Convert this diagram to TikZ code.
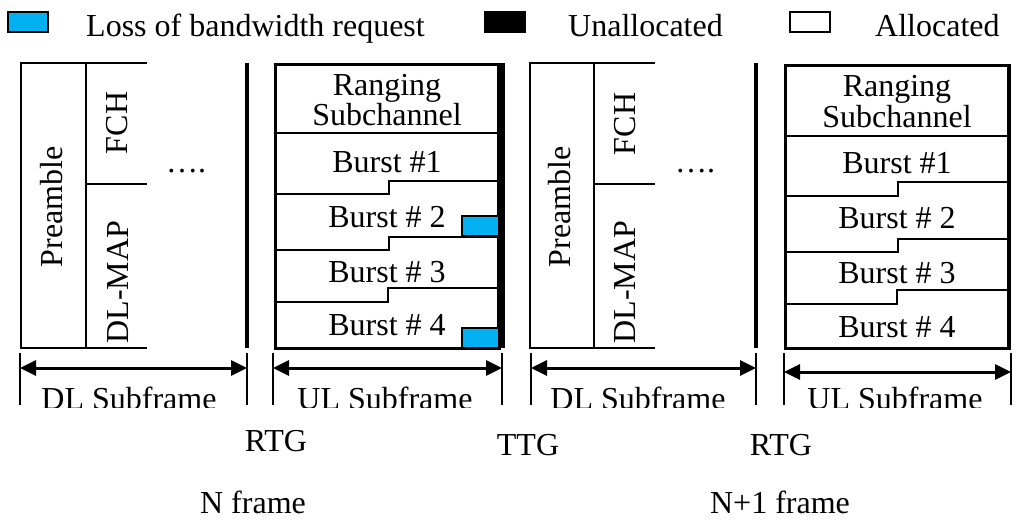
\documentclass[tikz,border=0pt]{standalone}
\usepackage{fontspec}
\setmainfont{Liberation Serif}
\usetikzlibrary{arrows.meta}
\definecolor{lossblue}{RGB}{0,176,240}
\begin{document}
\begin{tikzpicture}[x=1pt,y=-1pt,
  txt/.style={inner sep=0pt,font=\fontsize{32}{32}\selectfont,anchor=base},
  rtxt/.style={txt,rotate=90},
  legbox/.style={draw,line width=1.5pt,minimum width=40pt,minimum height=20pt,inner sep=0pt},
  frameline/.style={line width=2.2pt},
  thinline/.style={line width=1.5pt},
  gapbar/.style={line width=4pt},
  ulbox/.style={draw,line width=3pt},
  lossbox/.style={draw,fill=lossblue,line width=2.2pt},
  span/.style={line width=3pt,{Triangle[length=16pt,width=15pt]}-{Triangle[length=16pt,width=15pt]}},
  tickline/.style={line width=1.5pt},
]
\useasboundingbox (0,0) rectangle (1016,519);

% legend
\node[legbox,fill=lossblue] (legloss) at (28,22) {};
\node[txt,anchor=base west] (leglosst) at (86,37) {Loss of bandwidth request};
\node[legbox,fill=black] (legun) at (505,22) {};
\node[txt,anchor=base west] (leguntxt) at (568,37) {Unallocated};
\node[legbox,fill=white] (legal) at (810,22) {};
\node[txt,anchor=base west] (legaltxt) at (875,37) {Allocated};

% ---------- DL subframe N ----------
\draw[frameline] (147,63) -- (21,63) -- (21,348) -- (147,348);
\draw[thinline] (86,63) -- (86,348);
\draw[thinline] (86,184) -- (147,184);
\node[rtxt] (pre1) at (62,207) {Preamble};
\node[rtxt] (fch1) at (127,123) {FCH};
\node[rtxt] (map1) at (128,282) {DL-MAP};
\node[txt] (dots1) at (186,172) {….};
\draw[gapbar] (247,63) -- (247,348);

% ---------- UL subframe N ----------
\draw[ulbox] (275,64) rectangle (499,348);
\draw[line width=4.5pt] (499,64) -- (499,348);
\draw[thinline] (275,133) -- (499,133);
\draw[thinline] (275,194) -- (389,194) -- (389,181) -- (499,181);
\draw[thinline] (275,250) -- (389,250) -- (389,237) -- (499,237);
\draw[thinline] (275,302) -- (388,302) -- (388,288) -- (499,288);
\draw[lossbox] (462,216) rectangle (499,236);
\draw[lossbox] (462,328) rectangle (499,348);
\node[txt] (rng1) at (387,95) {Ranging};
\node[txt] (sub1) at (387,125) {Subchannel};
\node[txt] (b11) at (387,172) {Burst \#1};
\node[txt] (b12) at (387,227) {Burst \# 2};
\node[txt] (b13) at (387,282) {Burst \# 3};
\node[txt] (b14) at (387,335) {Burst \# 4};
\draw[gapbar] (503,63) -- (503,348);

% ---------- DL subframe N+1 ----------
\draw[frameline] (655,63) -- (530,63) -- (530,348) -- (655,348);
\draw[thinline] (594,63) -- (594,348);
\draw[thinline] (594,184) -- (655,184);
\node[rtxt] (pre2) at (570,207) {Preamble};
\node[rtxt] (fch2) at (635,124) {FCH};
\node[rtxt] (map2) at (635,282) {DL-MAP};
\node[txt] (dots2) at (695,172) {….};
\draw[gapbar] (756,63) -- (756,348);

% ---------- UL subframe N+1 ----------
\draw[ulbox] (785,65) rectangle (1009,348);
\draw[line width=4.5pt] (1009,65) -- (1009,348);
\draw[thinline] (785,136) -- (1009,136);
\draw[thinline] (785,196) -- (898,196) -- (898,182) -- (1009,182);
\draw[thinline] (785,252) -- (898,252) -- (898,239) -- (1009,239);
\draw[thinline] (785,304) -- (897,304) -- (897,290) -- (1009,290);
\node[txt] (rng2) at (897,96) {Ranging};
\node[txt] (sub2) at (897,127) {Subchannel};
\node[txt] (b21) at (897,173) {Burst \#1};
\node[txt] (b22) at (897,228) {Burst \# 2};
\node[txt] (b23) at (897,283) {Burst \# 3};
\node[txt] (b24) at (897,337) {Burst \# 4};

% ---------- span markers ----------
\foreach \nm/\xa/\xb/\yy in {dla/20/247/368, ula/273/502/368, dlb/531/756/368, ulb/784/1011/372}{
  \coordinate (\nm l) at (\xa,\yy);
  \coordinate (\nm r) at (\xb,\yy);
  \coordinate (\nm lt) at (\xa,353);
  \coordinate (\nm lb) at (\xa,405);
  \coordinate (\nm rt) at (\xb,353);
  \coordinate (\nm rb) at (\xb,405);
  \draw[tickline] (\nm lt) -- (\nm lb);
  \draw[tickline] (\nm rt) -- (\nm rb);
  \draw[span] (\nm l) -- (\nm r);
}

\begin{scope}
  \clip (0,375) rectangle (1016,407);
  \node[txt] (dlsf1) at (129,409) {DL Subframe};
  \node[txt] (ulsf1) at (385,409) {UL Subframe};
  \node[txt] (dlsf2) at (638,409) {DL Subframe};
  \node[txt] (ulsf2) at (895,409) {UL Subframe};
\end{scope}

\node[txt] (rtg1) at (276,451) {RTG};
\node[txt] (ttg) at (528,455) {TTG};
\node[txt] (rtg2) at (781,455) {RTG};
\node[txt] (nfr) at (253,513) {N frame};
\node[txt] (n1fr) at (780,513) {N+1 frame};
\end{tikzpicture}
\end{document}
